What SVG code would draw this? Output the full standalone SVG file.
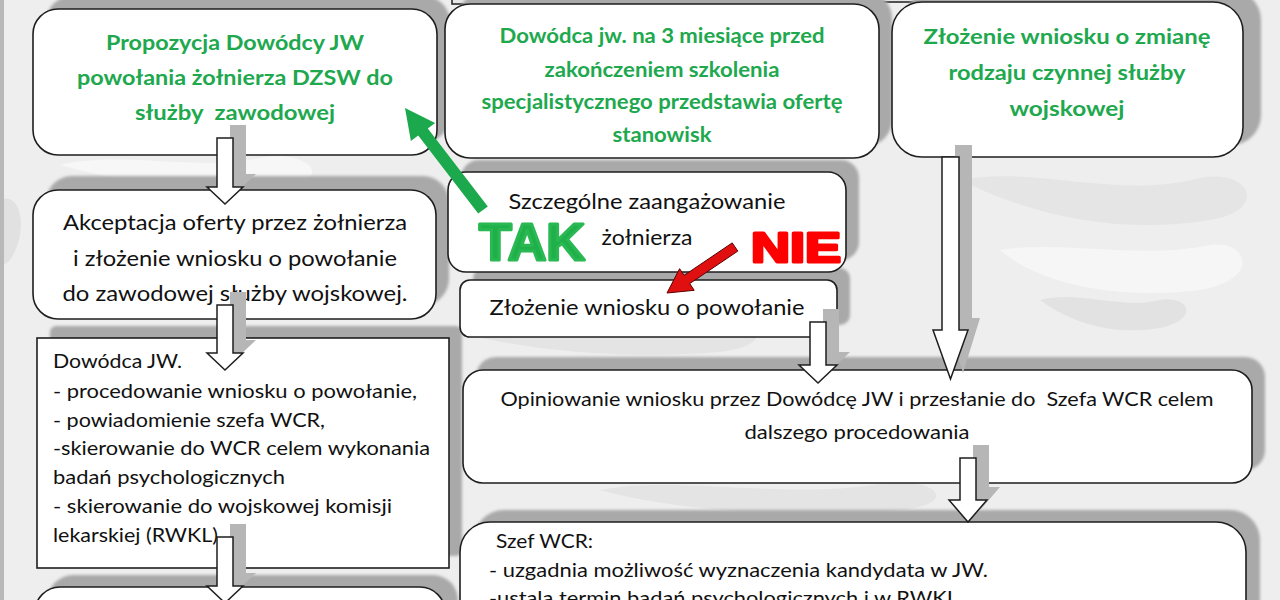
<svg xmlns="http://www.w3.org/2000/svg" width="1280" height="600" viewBox="0 0 1280 600">
<defs>
<filter id="blur" x="-10%" y="-10%" width="120%" height="120%"><feGaussianBlur stdDeviation="1.8"/></filter>
<style>
.box{fill:#ffffff;stroke:#1e1e1e;stroke-width:1.6}
.shadow{fill:#a9a9a9;filter:url(#blur)}
.arr{fill:#ffffff;stroke:#1e1e1e;stroke-width:1.5;stroke-linejoin:miter}
.ashadow{fill:#b6b6b6}
.g{font-family:Lato,"Open Sans","Liberation Sans",sans-serif;font-weight:bold;font-size:21px;fill:#20a84e;text-anchor:middle}
.t{font-family:Lato,"Open Sans","Liberation Sans",sans-serif;font-size:21px;fill:#111111;text-anchor:middle}
.tl{font-family:Lato,"Open Sans","Liberation Sans",sans-serif;font-size:20px;fill:#111111}
.tn{font-family:Lato,"Open Sans","Liberation Sans",sans-serif;font-size:19px;fill:#111111}
</style>
</defs>
<g id="background">
<rect x="0" y="0" width="1280" height="600" fill="#eeeeee"/>
<path d="M60 165 C120 150 200 172 260 158 C300 150 330 172 300 182 C230 192 140 188 60 165 Z" fill="#f7f7f7"/>
<path d="M450 330 C520 315 600 340 700 322 C760 317 780 345 720 352 C620 360 520 350 450 330 Z" fill="#e4e4e4"/>
<path d="M960 180 C1030 165 1120 200 1200 178 C1250 168 1270 210 1210 220 C1120 235 1030 215 960 180 Z" fill="#e5e5e5"/>
<path d="M1000 250 C1060 240 1140 260 1210 245 C1250 240 1260 280 1200 290 C1120 300 1040 285 1000 250 Z" fill="#f6f6f6"/>
<path d="M600 490 C680 475 780 500 880 484 C940 476 960 505 900 510 C800 518 680 512 600 490 Z" fill="#e4e4e4"/>
<path d="M1040 300 C1080 290 1120 310 1160 300 C1190 295 1200 320 1160 328 C1110 336 1070 322 1040 300 Z" fill="#e2e2e2"/>
<path d="M0 200 C20 190 30 230 10 260 C0 270 0 260 0 250 Z" fill="#e1e1e1"/>
<rect x="0" y="0" width="4" height="600" fill="#b8b8b8"/>
</g>
<g id="top-partial">
<rect x="452" y="-10" width="408" height="14" fill="#e6e6e6" stroke="#1e1e1e" stroke-width="1.5"/>
<rect x="865" y="-10" width="384" height="12" fill="#e6e6e6" stroke="#1e1e1e" stroke-width="1.5"/>
</g>
<g id="shadows">
<rect class="shadow" x="46" y="-4" width="404" height="146" rx="26"/>
<rect class="shadow" x="458" y="-8" width="434" height="154" rx="26"/>
<rect class="shadow" x="905" y="-10" width="356" height="155" rx="30"/>
<rect class="shadow" x="46" y="176" width="403" height="129" rx="26"/>
<rect class="shadow" x="461" y="160" width="398" height="100" rx="18"/>
<rect class="shadow" x="473" y="268" width="377" height="57" rx="10"/>
<rect class="shadow" x="50" y="326" width="412" height="230" rx="6"/>
<rect class="shadow" x="476" y="357" width="789" height="113" rx="20"/>
<rect class="shadow" x="48" y="575" width="410" height="60" rx="25"/>
<rect class="shadow" x="474" y="510" width="786" height="130" rx="30"/>
</g>
<g id="n1">
<rect class="box" x="33" y="9" width="404" height="146" rx="25"/>
<text class="g" x="235" y="50" textLength="258" lengthAdjust="spacingAndGlyphs">Propozycja Dowódcy JW</text>
<text class="g" x="235" y="85" textLength="316" lengthAdjust="spacingAndGlyphs">powołania żołnierza DZSW do</text>
<text class="g" x="235" y="120" textLength="200" lengthAdjust="spacingAndGlyphs" xml:space="preserve">służby  zawodowej</text>
</g>
<g id="n2">
<rect class="box" x="445" y="4" width="434" height="154" rx="25"/>
<text class="g" x="662" y="43" textLength="325" lengthAdjust="spacingAndGlyphs">Dowódca jw. na 3 miesiące przed</text>
<text class="g" x="662" y="77" textLength="235" lengthAdjust="spacingAndGlyphs">zakończeniem szkolenia</text>
<text class="g" x="662" y="109" textLength="361" lengthAdjust="spacingAndGlyphs">specjalistycznego przedstawia ofertę</text>
<text class="g" x="662" y="142" textLength="99" lengthAdjust="spacingAndGlyphs">stanowisk</text>
</g>
<g id="n3">
<rect class="box" x="892" y="2" width="351" height="155" rx="30"/>
<text class="g" x="1067" y="44" textLength="287" lengthAdjust="spacingAndGlyphs">Złożenie wniosku o zmianę</text>
<text class="g" x="1067" y="80" textLength="237" lengthAdjust="spacingAndGlyphs">rodzaju czynnej służby</text>
<text class="g" x="1067" y="116" textLength="115" lengthAdjust="spacingAndGlyphs">wojskowej</text>
</g>
<g id="n4">
<rect class="box" x="33" y="190" width="403" height="129" rx="25"/>
<text class="t" x="235" y="230" textLength="344" lengthAdjust="spacingAndGlyphs">Akceptacja oferty przez żołnierza</text>
<text class="t" x="235" y="266" textLength="324" lengthAdjust="spacingAndGlyphs">i złożenie wniosku o powołanie</text>
<text class="t" x="235" y="301" textLength="345" lengthAdjust="spacingAndGlyphs">do zawodowej służby wojskowej.</text>
</g>
<g id="n5">
<rect class="box" x="448" y="172" width="398" height="100" rx="18"/>
<text class="t" x="647" y="209" textLength="277" lengthAdjust="spacingAndGlyphs">Szczególne zaangażowanie</text>
<text class="t" x="647" y="245" textLength="91" lengthAdjust="spacingAndGlyphs">żołnierza</text>
</g>
<g id="n6">
<rect class="box" x="460" y="280" width="377" height="57" rx="10"/>
<text class="t" x="647" y="315" textLength="315" lengthAdjust="spacingAndGlyphs">Złożenie wniosku o powołanie</text>
</g>
<g id="n7">
<rect class="box" x="37" y="338" width="412" height="230"/>
<text class="tl" x="53" y="368" textLength="129" lengthAdjust="spacingAndGlyphs">Dowódca JW.</text>
<text class="tl" x="53" y="398" textLength="364" lengthAdjust="spacingAndGlyphs">- procedowanie wniosku o powołanie,</text>
<text class="tl" x="53" y="427" textLength="272" lengthAdjust="spacingAndGlyphs">- powiadomienie szefa WCR,</text>
<text class="tl" x="53" y="455" textLength="377" lengthAdjust="spacingAndGlyphs">-skierowanie do WCR celem wykonania</text>
<text class="tl" x="53" y="484" textLength="232" lengthAdjust="spacingAndGlyphs">badań psychologicznych</text>
<text class="tl" x="53" y="513" textLength="339" lengthAdjust="spacingAndGlyphs">- skierowanie do wojskowej komisji</text>
<text class="tl" x="53" y="542" textLength="165" lengthAdjust="spacingAndGlyphs">lekarskiej (RWKL)</text>
</g>
<g id="n8">
<rect class="box" x="463" y="370" width="789" height="113" rx="20"/>
<text class="tn" x="857" y="406" text-anchor="middle" textLength="713" lengthAdjust="spacingAndGlyphs" xml:space="preserve">Opiniowanie wniosku przez Dowódcę JW i przesłanie do  Szefa WCR celem</text>
<text class="tn" x="857" y="439" text-anchor="middle" textLength="225" lengthAdjust="spacingAndGlyphs">dalszego procedowania</text>
</g>
<g id="n9">
<rect class="box" x="35" y="587" width="410" height="60" rx="25"/>
</g>
<g id="n10">
<rect class="box" x="460" y="522" width="786" height="130" rx="30"/>
<text class="tn" x="496" y="548" textLength="97" lengthAdjust="spacingAndGlyphs">Szef WCR:</text>
<text class="tn" x="489" y="577" textLength="499" lengthAdjust="spacingAndGlyphs">- uzgadnia możliwość wyznaczenia kandydata w JW.</text>
<text class="tn" x="489" y="605" textLength="469" lengthAdjust="spacingAndGlyphs">-ustala termin badań psychologicznych i w RWKL</text>
</g>
<g id="connectors">
<g id="arrow-shadows">
<polygon class="ashadow" points="230,125 246,125 246,174 256,174 238,191 220,174 230,174"/>
<polygon class="ashadow" points="230,292 246,292 246,340 256,340 238,357 220,340 230,340"/>
<polygon class="ashadow" points="230,524 246,524 246,573 256,573 238,590 220,573 230,573"/>
<polygon class="ashadow" points="823,309 839,309 839,352 850,352 831,370 812,352 823,352"/>
<polygon class="ashadow" points="955,145 972,145 972,318 980,318 963,373 946,318 955,318"/>
<polygon class="ashadow" points="973,445 989,445 989,487 1000,487 981,509 962,487 973,487"/>
</g>
<polygon class="arr" points="217,138 233,138 233,187 243,187 225,204 207,187 217,187"/>
<polygon class="arr" points="217,305 233,305 233,353 243,353 225,370 207,353 217,353"/>
<polygon class="arr" points="217,537 233,537 233,586 243,586 225,603 207,586 217,586"/>
<polygon class="arr" points="810,322 826,322 826,365 837,365 818,383 799,365 810,365"/>
<polygon class="arr" points="942,157 959,157 959,330 968,330 950.5,379 933,330 942,330"/>
<polygon class="arr" points="960,458 976,458 976,500 987,500 968,522 949,500 960,500"/>
<polygon id="arrow-tak" points="487.8,206.4 478.2,213.6 418.2,135.6 410.9,140.9 405,108 435.1,123.1 427.8,128.4" fill="#1ca84c"/>
<polygon id="arrow-nie" points="737.8,251.1 732.2,242.9 684.1,275.4 679.6,268.7 667,293 694.2,290.3 689.7,283.6" fill="#e01010" stroke="#5a0000" stroke-width="1"/>
</g>
<g id="labels">
<text x="532" y="260" text-anchor="middle" font-family="Liberation Sans,Arial,sans-serif" font-weight="bold" font-size="52" fill="#1fb04a" stroke="#2ab853" stroke-width="3" stroke-linejoin="round" textLength="106" lengthAdjust="spacingAndGlyphs">TAK</text>
<text x="796" y="262" text-anchor="middle" font-family="Liberation Sans,Arial,sans-serif" font-weight="bold" font-size="43" fill="#ff0000" stroke="#ff0000" stroke-width="3" stroke-linejoin="round" textLength="90" lengthAdjust="spacingAndGlyphs">NIE</text>
</g>
</svg>
